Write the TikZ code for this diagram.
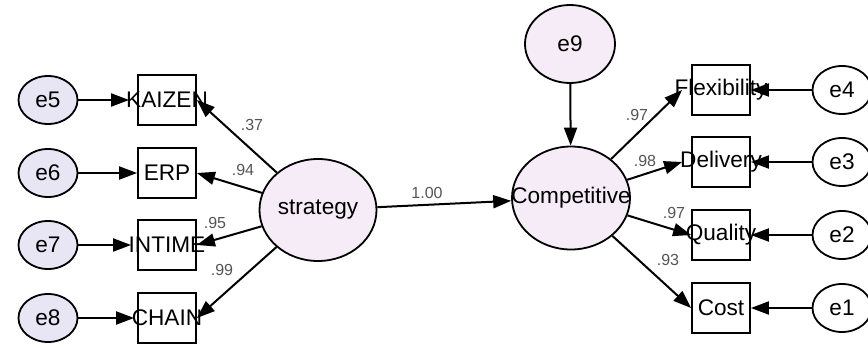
\documentclass[tikz,border=0pt]{standalone}
\usepackage{fontspec}
\setmainfont{Liberation Sans}
\usetikzlibrary{shapes.geometric}
\usetikzlibrary{arrows.meta}
\definecolor{errfill}{RGB}{232,230,245}
\definecolor{latfill}{RGB}{245,236,248}
\definecolor{coefgray}{RGB}{85,85,85}
\newcommand{\ctr}[1]{\makebox[0pt]{#1}}

\begin{document}
\begin{tikzpicture}[x=0.5pt, y=-0.5pt, font=\fontsize{11.3}{13}\selectfont,
	obs/.style={draw, line width=0.9pt, fill=white, minimum width=29pt, minimum height=25pt, inner sep=0pt},
	err/.style={draw, ellipse, line width=0.9pt, fill=errfill, minimum width=29.5pt, minimum height=24pt, inner sep=0pt},
	lat/.style={draw, ellipse, line width=0.9pt, fill=latfill, inner sep=0pt},
	reg/.style={line width=1pt, -{Triangle[length=9pt,width=6.5pt]}},
	coef/.style={text=coefgray, font=\fontsize{8}{10}\selectfont}]

	\useasboundingbox (0,0) rectangle (868,348);

	% left measurement part
	\node[err] (e5) at (48,100) {e5};
	\node[err] (e6) at (48,173) {e6};
	\node[err] (e7) at (48,245) {e7};
	\node[err] (e8) at (48,318) {e8};
	\node[obs] (kaizen) at (167,100) {\ctr{KAIZEN}};
	\node[obs] (erp) at (167,173) {\ctr{ERP}};
	\node[obs] (intime) at (167,245) {\ctr{INTIME}};
	\node[obs] (chain) at (167,318) {\ctr{CHAIN}};
	\node[lat, minimum width=58.5pt, minimum height=51pt] (strategy) at (318,210) {\ctr{strategy}};

	% right measurement part
	\node[lat, minimum width=59pt, minimum height=51.5pt] (comp) at (571,198) {\ctr{Competitive}};
	\node[lat, minimum width=45pt, minimum height=39pt] (e9) at (570,44) {\ctr{e9}};
	\node[obs] (flex) at (721,90) {\ctr{Flexibility}};
	\node[obs] (deliv) at (721,162) {\ctr{Delivery}};
	\node[obs] (qual) at (721,235) {\ctr{Quality}};
	\node[obs] (cost) at (721,308) {\ctr{Cost}};
	\node[err, fill=white] (e4) at (842,90) {e4};
	\node[err, fill=white] (e3) at (842,162) {e3};
	\node[err, fill=white] (e2) at (842,235) {e2};
	\node[err, fill=white] (e1) at (842,308) {e1};

	\draw[reg] (e5) -- ([xshift=-4pt]kaizen.west);
	\draw[reg] (e6) -- (erp);
	\draw[reg] (e7) -- ([xshift=-3pt]intime.west);
	\draw[reg] (e8) -- ([xshift=-1.5pt]chain.west);
	\draw[reg] (strategy) -- (kaizen.east);
	\draw[reg] (strategy) -- (erp.east);
	\draw[reg] (strategy) -- (intime.east);
	\draw[reg] (strategy) -- (chain.east);

	\draw[reg] (strategy) -- (comp);
	\draw[reg] (e9) -- (comp);

	\draw[reg] (comp) -- ([xshift=-4.5pt]flex.west);
	\draw[reg] (comp) -- ([xshift=-4.5pt]deliv.west);
	\draw[reg] (comp) -- (qual.west);
	\draw[reg] (comp) -- (cost.west);
	\draw[reg] (e4) -- (flex.east);
	\draw[reg] (e3) -- (deliv.east);
	\draw[reg] (e2) -- (qual.east);
	\draw[reg] (e1) -- (cost.east);

	\node[coef] (w1) at (252,125) {.37};
	\node[coef] (w2) at (243,170) {.94};
	\node[coef] (w3) at (215,223) {.95};
	\node[coef] (w4) at (222,270) {.99};
	\node[coef] (w5) at (427,193) {1.00};
	\node[coef] (w6) at (637,115) {.97};
	\node[coef] (w7) at (645,161) {.98};
	\node[coef] (w8) at (674,213) {.97};
	\node[coef] (w9) at (668,260) {.93};

\end{tikzpicture}
\end{document}
